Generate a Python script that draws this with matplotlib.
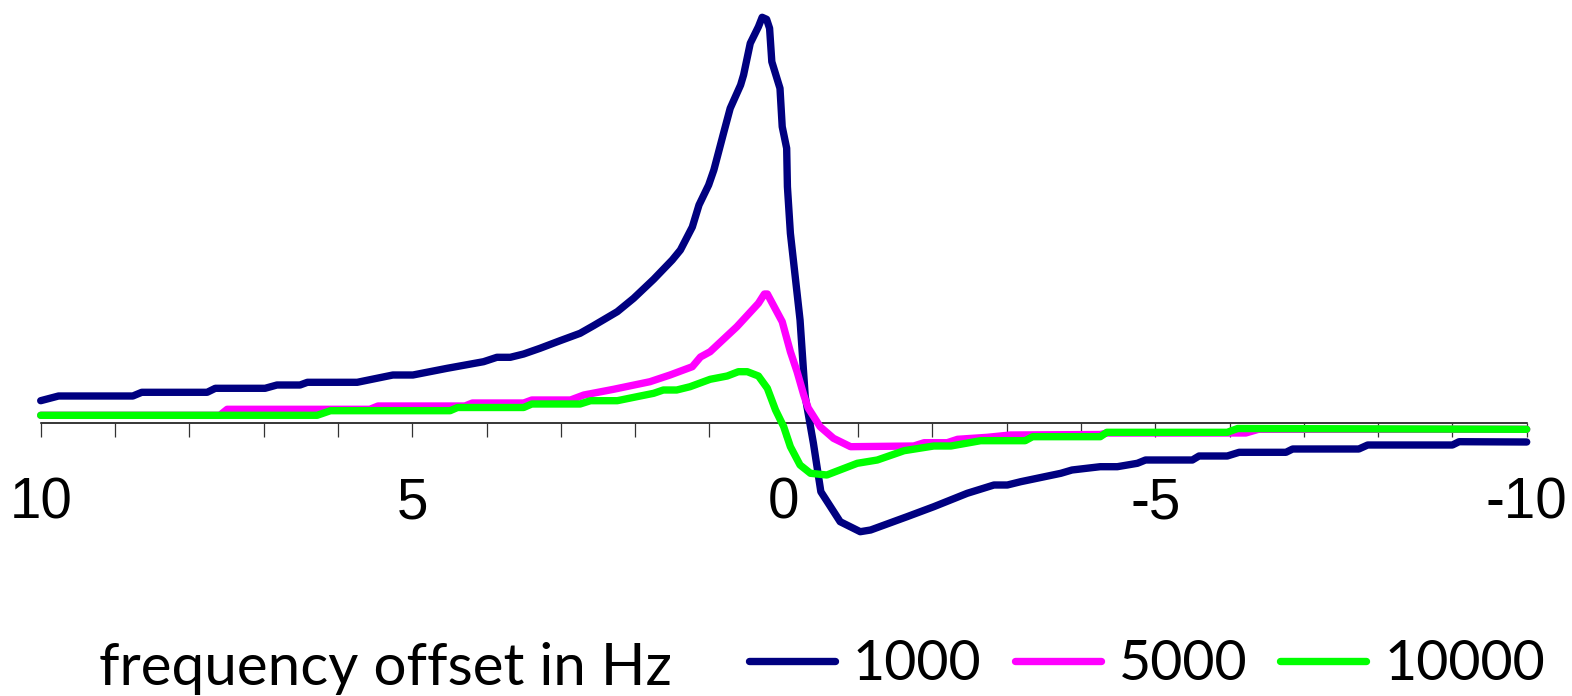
import matplotlib
matplotlib.use("Agg")
import matplotlib.pyplot as plt
from matplotlib.ticker import FixedLocator, MultipleLocator

# ---- data ----
x_1000 = [10.00, 9.76, 8.76, 8.64, 7.76, 7.65, 6.98, 6.82, 6.51, 6.41, 5.74, 5.26, 4.99,
          4.53, 4.04, 3.86, 3.68, 3.50, 3.28, 3.01, 2.74, 2.56, 2.24, 2.02, 1.75, 1.50,
          1.39, 1.23, 1.14, 1.01, 0.94, 0.81, 0.72, 0.58, 0.54, 0.45, 0.34, 0.29, 0.23,
          0.19, 0.16, 0.05, 0.02, -0.04, -0.05, -0.09, -0.18, -0.22, -0.29, -0.40, -0.50,
          -0.76, -1.03, -1.17, -1.66, -2.02, -2.47, -2.83, -3.01, -3.19, -3.73, -3.88,
          -4.26, -4.49, -4.76, -4.87, -5.50, -5.59, -5.97, -6.13, -6.76, -6.85, -7.74,
          -7.86, -9.00, -9.09, -10.00]
y_1000 = [0.218, 0.265, 0.265, 0.302, 0.302, 0.342, 0.342, 0.375, 0.375, 0.402, 0.402,
          0.475, 0.475, 0.542, 0.608, 0.652, 0.652, 0.685, 0.742, 0.818, 0.892, 0.968,
          1.108, 1.242, 1.432, 1.625, 1.725, 1.955, 2.175, 2.375, 2.525, 2.892, 3.142,
          3.375, 3.475, 3.792, 3.958, 4.052, 4.032, 3.942, 3.608, 3.342, 2.958, 2.742,
          2.358, 1.892, 1.292, 1.025, 0.258, -0.208, -0.692, -0.992, -1.092, -1.075,
          -0.942, -0.842, -0.708, -0.625, -0.625, -0.592, -0.508, -0.475, -0.442, -0.442,
          -0.408, -0.375, -0.375, -0.335, -0.335, -0.298, -0.298, -0.265, -0.265, -0.225,
          -0.225, -0.192, -0.195]

x_5000 = [10.00, 7.59, 7.49, 5.57, 5.46, 4.29, 4.19, 3.50, 3.39, 2.87, 2.69, 2.29, 1.80,
          1.53, 1.23, 1.12, 0.99, 0.63, 0.34, 0.26, 0.22, 0.02, -0.09, -0.18, -0.27,
          -0.33, -0.49, -0.67, -0.90, -1.75, -1.89, -2.20, -2.34, -2.74, -3.05, -4.26,
          -4.35, -6.22, -6.39, -10.00]
y_5000 = [0.072, 0.072, 0.132, 0.132, 0.165, 0.165, 0.195, 0.195, 0.225, 0.225, 0.275,
          0.332, 0.408, 0.475, 0.558, 0.655, 0.708, 0.958, 1.192, 1.285, 1.285, 1.008,
          0.708, 0.508, 0.275, 0.145, -0.042, -0.158, -0.242, -0.235, -0.202, -0.202,
          -0.168, -0.148, -0.125, -0.120, -0.105, -0.105, -0.068, -0.068]

x_10000 = [10.00, 6.28, 6.10, 4.49, 4.39, 3.50, 3.39, 2.74, 2.60, 2.24, 1.93, 1.75, 1.62,
           1.44, 1.26, 0.99, 0.76, 0.61, 0.49, 0.34, 0.22, 0.11, 0.00, -0.09, -0.22,
           -0.36, -0.58, -0.99, -1.26, -1.62, -2.02, -2.25, -2.65, -3.25, -3.35, -4.26,
           -4.35, -5.97, -6.11, -10.00]
y_10000 = [0.072, 0.072, 0.118, 0.118, 0.150, 0.150, 0.185, 0.185, 0.218, 0.218, 0.265,
           0.292, 0.325, 0.325, 0.358, 0.432, 0.465, 0.508, 0.508, 0.465, 0.342, 0.125,
           -0.042, -0.242, -0.425, -0.508, -0.525, -0.408, -0.375, -0.282, -0.235, -0.235,
           -0.182, -0.182, -0.142, -0.142, -0.098, -0.098, -0.060, -0.068]

series_labels = ["1000", "5000", "10000"]
series_colors = ["#000080", "#FF00FF", "#00FF00"]
major_ticks = [10, 5, 0, -5, -10]
tick_labels = ["10", "5", "0", "-5", "-10"]
x_label = "frequency offset in Hz"

# ---- figure ----
W, H, DPI = 1572, 696, 100
fig = plt.figure(figsize=(W / DPI, H / DPI), dpi=DPI)
ax = fig.add_axes([40.7 / W, (H - 540) / H, 1486 / W, 540 / H])
ax.set_facecolor("none")

lw = 5.3
for xs, ys, lab, col in zip([x_1000, x_5000, x_10000], [y_1000, y_5000, y_10000],
                            series_labels, series_colors):
    ax.plot(xs, ys, color=col, lw=lw, label=lab, solid_capstyle="round",
            solid_joinstyle="round", clip_on=False)

ax.set_xlim(10, -10)
ax.set_ylim(-1.175, 4.225)

for s in ["top", "left", "right"]:
    ax.spines[s].set_visible(False)
ax.spines["bottom"].set_position(("data", 0))
ax.spines["bottom"].set_linewidth(1.1)
ax.spines["bottom"].set_zorder(0.5)
ax.set_yticks([])
ax.xaxis.set_major_locator(FixedLocator(major_ticks))
ax.xaxis.set_minor_locator(MultipleLocator(1))
ax.set_xticklabels(tick_labels, fontfamily="Liberation Sans", fontsize=40.8)
ax.tick_params(axis="x", which="both", direction="out", length=10, width=0.9,
               color="#333333")
ax.tick_params(axis="x", which="major", pad=29)

# x label text at lower left
fig.text(99 / W, 1 - 685 / H, x_label, fontfamily="Lato", fontsize=42,
         ha="left", va="baseline")

leg = fig.legend(loc="lower right", bbox_to_anchor=(1545 / W, 1 - 690 / H),
                 ncol=3, frameon=False, prop={"family": "Lato", "size": 40},
                 handlelength=1.55, handletextpad=0.32, columnspacing=0.6,
                 borderaxespad=0, borderpad=0)
for h in leg.get_lines():
    h.set_linewidth(lw)
    h.set_solid_capstyle("round")

fig.savefig("out.png", dpi=DPI)
